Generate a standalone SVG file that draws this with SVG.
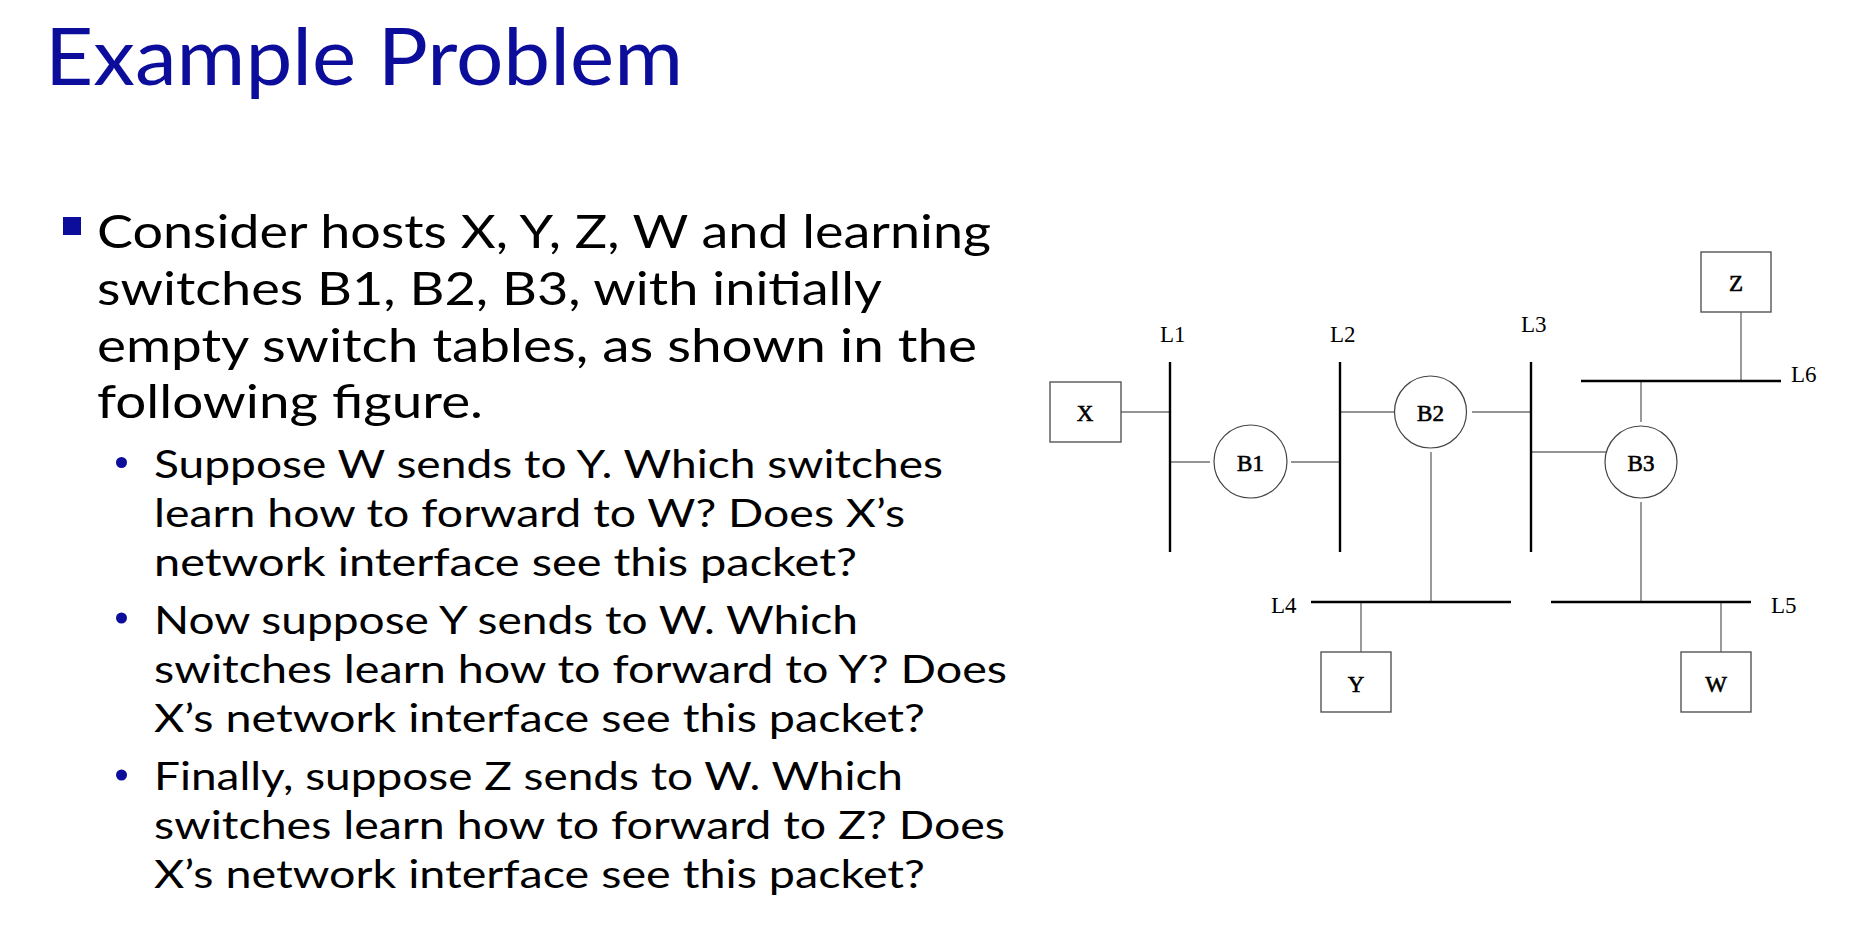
<svg xmlns="http://www.w3.org/2000/svg" width="1860" height="946" viewBox="0 0 1860 946">
<defs>
<style>
.title{font-family:Lato,"Open Sans","Liberation Sans",sans-serif;font-size:80px;fill:#0d0d9b}
.b1{font-family:Lato,"Open Sans","Liberation Sans",sans-serif;font-size:46px;fill:#000}
.b2{font-family:Lato,"Open Sans","Liberation Sans",sans-serif;font-size:38px;fill:#000}
.bul{fill:#0d0d9b}
.seg{stroke:#000;stroke-width:2.4;fill:none}
.con{stroke:#707070;stroke-width:1.4;fill:none}
.host{fill:#fff;stroke:#555;stroke-width:1.4}
.sw{fill:#fff;stroke:#444;stroke-width:1.2}
.lbl{font-family:"Liberation Serif","Times New Roman",serif;font-size:23px;fill:#000}
.nl{font-family:"Liberation Serif","Times New Roman",serif;font-size:23px;fill:#000;stroke:#000;stroke-width:0.6;text-anchor:middle}
</style>
</defs>
<rect width="1860" height="946" fill="#fff"/>

<g id="title">
<text class="title" x="45" y="85" textLength="638" lengthAdjust="spacingAndGlyphs">Example Problem</text>
</g>

<g id="text">
<rect class="bul" x="63" y="217" width="18" height="18"/>
<text class="b1" x="97" y="248" textLength="894" lengthAdjust="spacingAndGlyphs">Consider hosts X, Y, Z, W and learning</text>
<text class="b1" x="97" y="305" textLength="785" lengthAdjust="spacingAndGlyphs">switches B1, B2, B3, with initially</text>
<text class="b1" x="97" y="362" textLength="880" lengthAdjust="spacingAndGlyphs">empty switch tables, as shown in the</text>
<text class="b1" x="97" y="418" textLength="386" lengthAdjust="spacingAndGlyphs">following figure.</text>

<circle class="bul" cx="121.5" cy="462.5" r="5.5"/>
<text class="b2" x="154" y="478" textLength="789" lengthAdjust="spacingAndGlyphs">Suppose W sends to Y. Which switches</text>
<text class="b2" x="154" y="527" textLength="751" lengthAdjust="spacingAndGlyphs">learn how to forward to W? Does X’s</text>
<text class="b2" x="154" y="576" textLength="703" lengthAdjust="spacingAndGlyphs">network interface see this packet?</text>

<circle class="bul" cx="121.5" cy="618" r="5.5"/>
<text class="b2" x="154" y="634" textLength="704" lengthAdjust="spacingAndGlyphs">Now suppose Y sends to W. Which</text>
<text class="b2" x="154" y="683" textLength="853" lengthAdjust="spacingAndGlyphs">switches learn how to forward to Y? Does</text>
<text class="b2" x="154" y="732" textLength="771" lengthAdjust="spacingAndGlyphs">X’s network interface see this packet?</text>

<circle class="bul" cx="121.5" cy="775" r="5.5"/>
<text class="b2" x="154" y="790" textLength="749" lengthAdjust="spacingAndGlyphs">Finally, suppose Z sends to W. Which</text>
<text class="b2" x="154" y="839" textLength="851" lengthAdjust="spacingAndGlyphs">switches learn how to forward to Z? Does</text>
<text class="b2" x="154" y="888" textLength="771" lengthAdjust="spacingAndGlyphs">X’s network interface see this packet?</text>
</g>

<g id="connectors">
<line class="con" x1="1121" y1="412" x2="1170" y2="412"/>
<line class="con" x1="1170" y1="462" x2="1210" y2="462"/>
<line class="con" x1="1291" y1="462" x2="1340" y2="462"/>
<line class="con" x1="1340" y1="412" x2="1401" y2="412"/>
<line class="con" x1="1472" y1="412" x2="1531" y2="412"/>
<line class="con" x1="1431" y1="452" x2="1431" y2="602"/>
<line class="con" x1="1531" y1="452" x2="1611" y2="452"/>
<line class="con" x1="1641" y1="381" x2="1641" y2="422"/>
<line class="con" x1="1641" y1="502" x2="1641" y2="602"/>
<line class="con" x1="1741" y1="312" x2="1741" y2="381"/>
<line class="con" x1="1361" y1="602" x2="1361" y2="652"/>
<line class="con" x1="1721" y1="602" x2="1721" y2="652"/>
</g>

<g id="L1"><line class="seg" x1="1170" y1="362" x2="1170" y2="552"/><text class="lbl" x="1160" y="342">L1</text></g>
<g id="L2"><line class="seg" x1="1340" y1="362" x2="1340" y2="552"/><text class="lbl" x="1330" y="342">L2</text></g>
<g id="L3"><line class="seg" x1="1531" y1="362" x2="1531" y2="552"/><text class="lbl" x="1521" y="332">L3</text></g>
<g id="L4"><line class="seg" x1="1311" y1="602" x2="1511" y2="602"/><text class="lbl" x="1271" y="613">L4</text></g>
<g id="L5"><line class="seg" x1="1551" y1="602" x2="1751" y2="602"/><text class="lbl" x="1771" y="613">L5</text></g>
<g id="L6"><line class="seg" x1="1581" y1="381" x2="1781" y2="381"/><text class="lbl" x="1791" y="382">L6</text></g>

<g id="X"><rect class="host" x="1050" y="382" width="71" height="60"/><text class="nl" x="1085" y="421">X</text></g>
<g id="Z"><rect class="host" x="1701" y="252" width="70" height="60"/><text class="nl" x="1736" y="291">Z</text></g>
<g id="Y"><rect class="host" x="1321" y="652" width="70" height="60"/><text class="nl" x="1356" y="692">Y</text></g>
<g id="W"><rect class="host" x="1681" y="652" width="70" height="60"/><text class="nl" x="1716" y="692">W</text></g>

<g id="B1"><circle class="sw" cx="1250.5" cy="461.5" r="36.5"/><text class="nl" x="1250.5" y="471">B1</text></g>
<g id="B2"><circle class="sw" cx="1430.5" cy="412" r="36"/><text class="nl" x="1430.5" y="421">B2</text></g>
<g id="B3"><circle class="sw" cx="1641" cy="462" r="36"/><text class="nl" x="1641" y="471">B3</text></g>
</svg>
